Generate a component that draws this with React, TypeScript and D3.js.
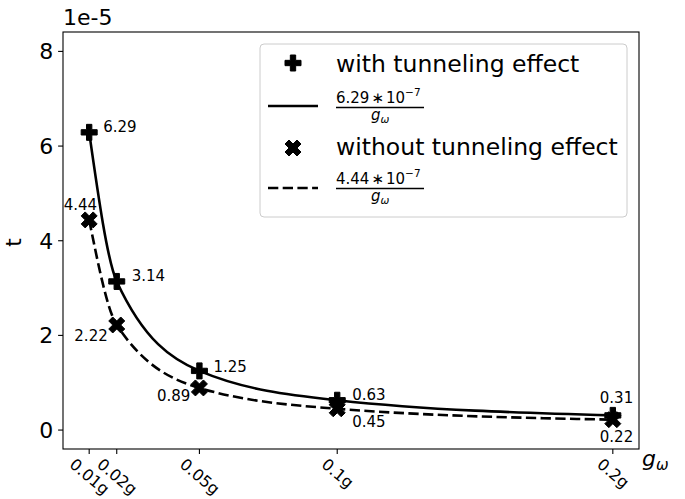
import React from 'react';
import * as d3 from 'd3';

// data (t in units of 1e-5)
const gOmega = [0.01, 0.02, 0.05, 0.1, 0.2];
const gOmegaLabels = ['0.01g', '0.02g', '0.05g', '0.1g', '0.2g'];
const withTunneling = [6.29, 3.14, 1.25, 0.63, 0.31];
const withoutTunneling = [4.44, 2.22, 0.89, 0.45, 0.22];
const yTickValues = [0, 2, 4, 6, 8];
const seriesNames = ['with tunneling effect', 'without tunneling effect'];
const fitCoefs = ['6.29', '4.44'];

const W = 685;
const H = 499;
const plot = {left: 63, right: 639, top: 32, bottom: 449};
const font = '"DejaVu Sans", Verdana, sans-serif';

// where each value annotation sits relative to its marker: [dx, dy, anchor]
const withLabelPos: [number, number, string][] = [
    [14, 0, 'start'], [15, 0, 'start'], [14, 1, 'start'], [15, 0, 'start'], [-13, -12, 'start'],
];
const withoutLabelPos: [number, number, string][] = [
    [8, -10, 'end'], [-9, 16, 'end'], [-9, 13, 'end'], [15, 18, 'start'], [-13, 22, 'start'],
];

const x = d3.scaleLinear().domain([0.0005, 0.2095]).range([plot.left, plot.right]);
const y = d3.scaleLinear().domain([-0.4, 8.41]).range([plot.bottom, plot.top]);

const plusVerts = [[-1, -3], [1, -3], [1, -1], [3, -1], [3, 1], [1, 1], [1, 3], [-1, 3], [-1, 1], [-3, 1], [-3, -1], [-1, -1]]
    .map(([a, b]) => [a / 6, b / 6]);
const xVerts = [[-1, -2], [0, -1], [1, -2], [2, -1], [1, 0], [2, 1], [1, 2], [0, 1], [-1, 2], [-2, 1], [-1, 0], [-2, -1]]
    .map(([a, b]) => [a / 4, b / 4]);

function markerPath(verts: number[][], size: number) {
    const p = d3.path();
    verts.forEach(([a, b], i) => {
        if (i === 0) p.moveTo(a * size, b * size);
        else p.lineTo(a * size, b * size);
    });
    p.closePath();
    return p.toString();
}

const plusD = markerPath(plusVerts, 16);
const xD = markerPath(xVerts, 16);
const lw = 2.6;
const dash = '10.3,4.4';

function Fraction({coef, x0, baseline}: {coef: string; x0: number; baseline: number}) {
    return (
        <g fontFamily={font}>
            <text x={x0} y={baseline} fontSize={15}>
                {coef}
                <tspan dx={2}>∗</tspan>
                <tspan dx={2}>10</tspan>
                <tspan fontSize={10.5} dy={-7}>−7</tspan>
            </text>
            <line x1={x0} x2={x0 + 88} y1={baseline + 4.5} y2={baseline + 4.5} stroke="#000" strokeWidth={1.4} />
            <text x={x0 + 35} y={baseline + 17} fontSize={15} fontStyle="italic">
                g<tspan fontSize={10.5} dy={3}>ω</tspan>
            </text>
        </g>
    );
}

export default function App() {
    const line = d3.line<number>()
        .x((d, i) => x(gOmega[i]))
        .y((d) => y(d))
        .curve(d3.curveMonotoneX);

    const tickLen = 4.9;
    const rot = 40;
    const rad = (rot * Math.PI) / 180;
    const xfs = 16;

    return (
        <svg width={W} height={H} style={{position: 'absolute', left: 0, top: 0, background: '#fff'}}
            fontFamily={font}>
            {/* curves */}
            <path d={line(withTunneling) || ''} fill="none" stroke="#000" strokeWidth={lw} />
            <path d={line(withoutTunneling) || ''} fill="none" stroke="#000" strokeWidth={lw}
                strokeDasharray={dash} />

            {/* markers */}
            {withTunneling.map((v, i) => (
                <path key={'p' + i} d={plusD} transform={`translate(${x(gOmega[i])},${y(v)})`}
                    fill="#000" stroke="#000" strokeWidth={1} />
            ))}
            {withoutTunneling.map((v, i) => (
                <path key={'x' + i} d={xD} transform={`translate(${x(gOmega[i])},${y(v)})`}
                    fill="#000" stroke="#000" strokeWidth={1} />
            ))}

            {/* value annotations */}
            {withTunneling.map((v, i) => (
                <text key={'wl' + i} x={x(gOmega[i]) + withLabelPos[i][0]} y={y(v) + withLabelPos[i][1]}
                    fontSize={15} textAnchor={withLabelPos[i][2]}>{v.toFixed(2)}</text>
            ))}
            {withoutTunneling.map((v, i) => (
                <text key={'ol' + i} x={x(gOmega[i]) + withoutLabelPos[i][0]} y={y(v) + withoutLabelPos[i][1]}
                    fontSize={15} textAnchor={withoutLabelPos[i][2]}>{v.toFixed(2)}</text>
            ))}

            {/* axes frame */}
            <rect x={plot.left} y={plot.top} width={plot.right - plot.left} height={plot.bottom - plot.top}
                fill="none" stroke="#000" strokeWidth={1.1} />

            {/* y ticks */}
            {yTickValues.map((t) => (
                <g key={'yt' + t}>
                    <line x1={plot.left - tickLen} x2={plot.left} y1={y(t)} y2={y(t)} stroke="#000" strokeWidth={1.1} />
                    <text x={plot.left - tickLen - 4.9} y={y(t)} dy="0.36em" fontSize={22} textAnchor="end">{t}</text>
                </g>
            ))}
            <text x={plot.left} y={25} fontSize={22}>1e-5</text>
            <text transform={`translate(21,${(plot.top + plot.bottom) / 2 + 2}) rotate(-90)`} fontSize={22}
                textAnchor="middle">t</text>

            {/* x ticks */}
            {gOmega.map((g, i) => {
                const w = gOmegaLabels[i].split('').reduce((s, c) => s + (c === '.' ? 0.318 : 0.636), 0) * xfs;
                const h = xfs * 0.9;
                const half = (w * Math.sin(rad) + h * Math.cos(rad)) / 2;
                return (
                    <g key={'xt' + i}>
                        <line x1={x(g)} x2={x(g)} y1={plot.bottom} y2={plot.bottom + tickLen} stroke="#000" strokeWidth={1.1} />
                        <text transform={`translate(${x(g)},${plot.bottom + tickLen + 3 + half}) rotate(${rot})`}
                            fontSize={xfs} textAnchor="middle" dy="0.3em">{gOmegaLabels[i]}</text>
                    </g>
                );
            })}
            <text x={642} y={466} fontSize={22} fontStyle="italic">
                g<tspan fontSize={15} dy={4}>ω</tspan>
            </text>

            {/* legend */}
            <rect x={260} y={44} width={367} height={173} rx={4} fill="#fff" fillOpacity={0.8}
                stroke="#ccc" strokeWidth={1} />
            <path d={plusD} transform="translate(293,63)" fill="#000" stroke="#000" strokeWidth={1} />
            <text x={336} y={64} dy="0.36em" fontSize={23.5}>{seriesNames[0]}</text>
            <line x1={268} x2={318} y1={106} y2={106} stroke="#000" strokeWidth={lw} />
            <Fraction coef={fitCoefs[0]} x0={336} baseline={103} />
            <path d={xD} transform="translate(293,148)" fill="#000" stroke="#000" strokeWidth={1} />
            <text x={336} y={147} dy="0.36em" fontSize={23.5}>{seriesNames[1]}</text>
            <line x1={268} x2={318} y1={188} y2={188} stroke="#000" strokeWidth={lw} strokeDasharray={dash} />
            <Fraction coef={fitCoefs[1]} x0={336} baseline={184} />
        </svg>
    );
}
